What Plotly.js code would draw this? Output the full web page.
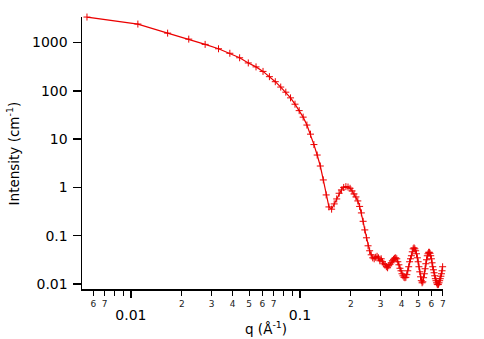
<!DOCTYPE html>
<html>
<head>
<meta charset="utf-8">
<script src="https://cdn.plot.ly/plotly-3.0.1.min.js"></script>
<style>html,body{margin:0;padding:0;background:#fff;}#chart{width:484px;height:339px;}</style>
</head>
<body>
<div id="chart"></div>
<script>
// q values (Å^-1): evenly spaced grid
const qStep = 0.0055;
const qIndex = [];
for (let k = 1; k <= 127; k++) qIndex.push(k);
const qValues = qIndex.map(k => +(k * qStep).toFixed(4));

// Intensity (cm^-1)
const intensity = [
  3380, 2420, 1570, 1180, 918, 745, 601, 485, 379, 314,
  253, 197, 155, 120, 94, 71.7, 53, 39, 28.6, 19.6,
  12.7, 7.73, 4.69, 2.78, 1.43, 0.70, 0.395, 0.355, 0.456, 0.578,
  0.758, 0.888, 1.0, 1.04, 1.02, 0.96, 0.847, 0.734, 0.637, 0.526,
  0.405, 0.297, 0.199, 0.132, 0.0906, 0.0619, 0.0488, 0.0403, 0.0349, 0.0333,
  0.0358, 0.0375, 0.0349, 0.0303, 0.0333, 0.0289, 0.0263, 0.0250, 0.0228, 0.0217,
  0.0239, 0.0256, 0.0275, 0.0303, 0.0325, 0.0341, 0.0349, 0.0333, 0.0289, 0.0250,
  0.0212, 0.0188, 0.0163, 0.0148, 0.0138, 0.0135, 0.0138, 0.0156, 0.0188, 0.0228,
  0.0289, 0.0333, 0.0385, 0.0465, 0.0536, 0.0562, 0.0536, 0.0488, 0.0423, 0.0349,
  0.0289, 0.0228, 0.0179, 0.0141, 0.0117, 0.0106, 0.0111, 0.0135, 0.0163, 0.0207,
  0.0263, 0.0318, 0.0385, 0.0423, 0.0454, 0.0454, 0.0433, 0.0385, 0.0333, 0.0275,
  0.0228, 0.0197, 0.0171, 0.0148, 0.0129, 0.0117, 0.0106, 0.0099, 0.0097, 0.0099,
  0.0106, 0.0117, 0.0129, 0.0145, 0.0163, 0.0188, 0.0228
];

// tick labels
const xMinorVals = [0.006,0.007,0.008,0.009,0.02,0.03,0.04,0.05,0.06,0.07,0.08,0.09,0.2,0.3,0.4,0.5,0.6,0.7];
const xMinorText = ['6','7',' ',' ','2','3','4','5','6','7',' ',' ','2','3','4','5','6','7'];
const xMajorVals = [0.01, 0.1];
const xMajorText = ['0.01', '0.1'];
const yTickVals = [0.01, 0.1, 1, 10, 100, 1000];
const yTickText = ['0.01', '0.1', '1', '10', '100', '1000'];

const xRange = [Math.log10(0.00514), Math.log10(0.702)];
const yRange = [-2.103, 3.53];
const FONT = 'DejaVu Sans, Verdana, sans-serif';
const RED = 'rgb(235,0,0)';

const traces = [{
  x: qValues, y: intensity, type: 'scatter', mode: 'lines+markers',
  line: {color: RED, width: 1.2},
  marker: {symbol: 'cross-thin', size: 5, line: {color: RED, width: 1}, color: RED},
  cliponaxis: false,
  hoverinfo: 'skip', showlegend: false
}, {
  x: xMajorVals, y: [1, 1], xaxis: 'x2', type: 'scatter', mode: 'markers',
  marker: {opacity: 0}, hoverinfo: 'skip', showlegend: false
}];

const layout = {
  width: 484, height: 339,
  margin: {l: 82, r: 41, t: 17, b: 50},
  paper_bgcolor: '#fff', plot_bgcolor: '#fff',
  font: {family: FONT, color: '#000'},
  xaxis: {
    type: 'log', range: xRange, autorange: false,
    tickmode: 'array', tickvals: xMinorVals, ticktext: xMinorText,
    ticks: 'outside', ticklen: 5, tickwidth: 1, tickcolor: '#000',
    tickfont: {size: 9, family: FONT, color: '#222'},
    ticklabelstandoff: 1,
    showline: true, linecolor: '#000', linewidth: 1.5,
    showgrid: false, zeroline: false, mirror: false
  },
  xaxis2: {
    type: 'log', range: xRange, autorange: false, overlaying: 'x', anchor: 'y', side: 'bottom',
    tickmode: 'array', tickvals: xMajorVals, ticktext: xMajorText,
    ticks: 'outside', ticklen: 8, tickwidth: 1.5, tickcolor: '#000',
    tickfont: {size: 14, family: FONT, color: '#000'},
    ticklabelstandoff: 5,
    showline: false, showgrid: false, zeroline: false
  },
  yaxis: {
    type: 'log', range: yRange, autorange: false,
    tickmode: 'array', tickvals: yTickVals, ticktext: yTickText,
    ticks: 'outside', ticklen: 8, tickwidth: 1.5, tickcolor: '#000',
    tickfont: {size: 14, family: FONT, color: '#000'},
    ticklabelstandoff: 2,
    showline: true, linecolor: '#000', linewidth: 1.5,
    showgrid: false, zeroline: false, mirror: false
  },
  annotations: [{
    text: 'Intensity (cm<sup>-1</sup>)', textangle: -90,
    xref: 'paper', yref: 'paper', x: -0.19, y: 0.5, xanchor: 'center', yanchor: 'middle',
    showarrow: false, font: {size: 13.5, family: FONT, color: '#000'}
  }, {
    text: 'q (Å<sup>-1</sup>)',
    xref: 'paper', yref: 'paper', x: 0.51, y: -0.143, xanchor: 'center', yanchor: 'middle',
    showarrow: false, font: {size: 13.5, family: FONT, color: '#000'}
  }]
};

Plotly.newPlot('chart', traces, layout, {staticPlot: true, displayModeBar: false});
</script>
</body>
</html>
